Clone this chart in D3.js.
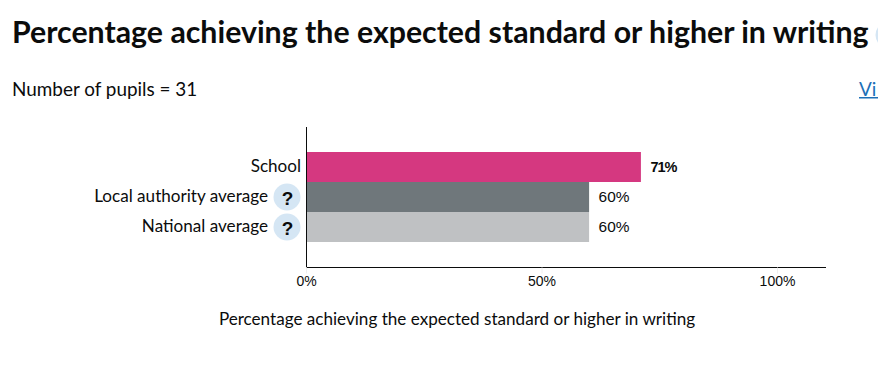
<!DOCTYPE html>
<html><head><meta charset="utf-8">
<script src="https://cdn.jsdelivr.net/npm/d3@7"></script>
<style>
html,body{margin:0;padding:0;background:#fff;overflow:hidden}
svg{display:block}
text{font-family:Lato,"Noto Sans",sans-serif;fill:#0b0c0c}
</style></head><body><div id="c"></div>
<script>
const categories=["School","Local authority average","National average"];
const values=[71,60,60];
const barColors=["#d53880","#6f777b","#bfc1c3"];
const hasHelp=[false,true,true];
const tickValues=[0,50,100];
const titleText="Percentage achieving the expected standard or higher in writing";
const subtitleText="Number of pupils = 31";
const linkText="Vi";
const axisTitle="Percentage achieving the expected standard or higher in writing";

const W=878,H=365;
const svg=d3.select("#c").append("svg").attr("width",W).attr("height",H);
const x=d3.scaleLinear().domain([0,110]).range([306.5,824.6]);
const y=d3.scaleBand().domain(categories).range([127,267]).paddingInner(0).paddingOuter(25/30);

svg.append("text").attr("x",12).attr("y",43).attr("font-size",30.3).attr("font-weight",700).text(titleText);
svg.append("circle").attr("cx",889).attr("cy",35).attr("r",13.5).attr("fill","#d5e6f4");
svg.append("text").attr("x",12).attr("y",96).attr("font-size",18.9).text(subtitleText);
svg.append("text").attr("x",859).attr("y",96).attr("font-size",18.9).style("fill","#1d70b8").text(linkText);
svg.append("rect").attr("x",859).attr("y",97).attr("width",19).attr("height",1.5).attr("fill","#1d70b8");

svg.selectAll("rect.bar").data(categories).join("rect").attr("class","bar")
 .attr("x",x(0)).attr("y",d=>y(d)).attr("height",y.bandwidth())
 .attr("width",(d,i)=>x(values[i])-x(0)).attr("fill",(d,i)=>barColors[i]);

svg.selectAll("text.val").data(categories).join("text").attr("class","val")
 .attr("x",(d,i)=>x(values[i])+9.5).attr("y",d=>y(d)+y.bandwidth()/2+5)
 .attr("font-size",(d,i)=>i===0?14.5:15.4)
 .style("font-family","'Liberation Sans',sans-serif")
 .style("letter-spacing",(d,i)=>i===0?"-1px":"0")
 .attr("font-weight",(d,i)=>i===0?700:400).text((d,i)=>values[i]+"%");

svg.selectAll("text.cat").data(categories).join("text").attr("class","cat")
 .attr("x",(d,i)=>hasHelp[i]?268:301).attr("y",d=>y(d)+y.bandwidth()/2+5)
 .attr("text-anchor","end").attr("font-size",17.1).text(d=>d);

const help=categories.filter((d,i)=>hasHelp[i]);
svg.selectAll("circle.help").data(help).join("circle").attr("class","help")
 .attr("cx",287).attr("cy",d=>y(d)+y.bandwidth()/2).attr("r",13.5).attr("fill","#d5e6f4");
svg.selectAll("text.q").data(help).join("text").attr("class","q")
 .attr("x",287.5).attr("y",d=>y(d)+y.bandwidth()/2+8).attr("text-anchor","middle")
 .attr("font-size",19).attr("font-weight",700).style("font-family","'Liberation Sans',sans-serif").text("?");

const ax=d3.axisBottom(x).tickValues(tickValues).tickFormat(d=>d+"%").tickSize(6).tickPadding(3).offset(0);
const g=svg.append("g").attr("transform","translate(0,267.5)").call(ax);
g.select(".domain").attr("stroke","#0b0c0c").attr("stroke-width",1).attr("d",`M${x(0)},0H826`);
g.selectAll(".tick line").attr("stroke","#eeeeee");
g.selectAll(".tick text").attr("font-size",14).style("font-family","'Liberation Sans',sans-serif");
svg.append("line").attr("x1",x(0)).attr("x2",x(0)).attr("y1",127).attr("y2",267).attr("stroke","#0b0c0c").attr("stroke-width",1);

svg.append("text").attr("x",457).attr("y",325).attr("text-anchor","middle").attr("font-size",17.1).text(axisTitle);
</script></body></html>
